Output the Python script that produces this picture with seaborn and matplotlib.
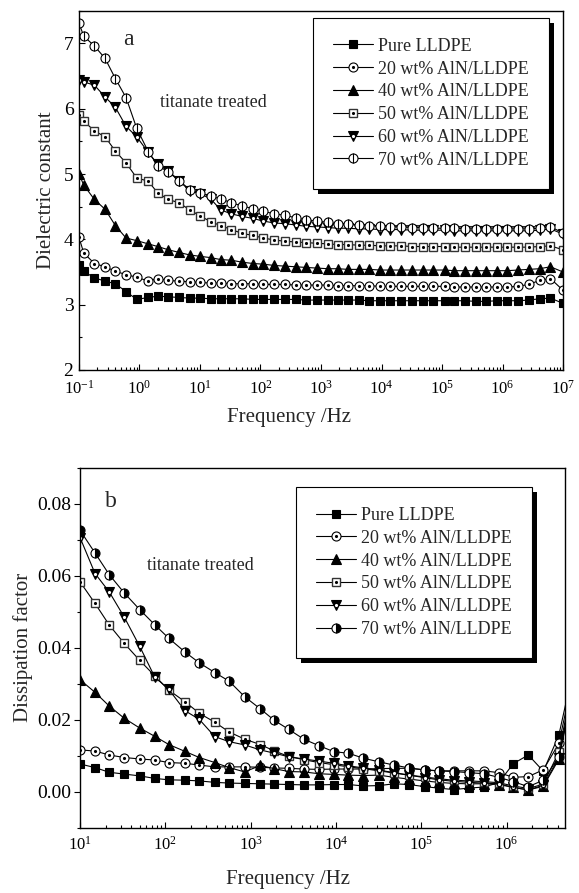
import numpy as np
import matplotlib
matplotlib.use('Agg')
import matplotlib.pyplot as plt
import seaborn as sns
from matplotlib.lines import Line2D
from matplotlib.patches import Rectangle
from matplotlib.ticker import LogLocator, LogFormatterMathtext, MultipleLocator, NullFormatter, FormatStrFormatter

# Style
sns.set_style("ticks")
plt.rcParams['font.family'] = ['Liberation Serif', 'DejaVu Serif']
plt.rcParams['mathtext.fontset'] = 'custom'
plt.rcParams['mathtext.rm'] = 'Liberation Serif'
plt.rcParams['mathtext.it'] = 'Liberation Serif:italic'
plt.rcParams['axes.edgecolor'] = 'black'

# Data
labels = ['Pure LLDPE', '20 wt% AlN/LLDPE', '40 wt% AlN/LLDPE',
          '50 wt% AlN/LLDPE', '60 wt% AlN/LLDPE', '70 wt% AlN/LLDPE']

# (a) dielectric constant
freq_a = [0.1, 0.12, 0.18, 0.27, 0.4, 0.6, 0.9, 1.4, 2, 3, 4.5, 6.8,
          10, 15, 22, 33, 50, 75, 110, 170, 250, 380, 560, 850,
          1.3e3, 1.9e3, 2.8e3, 4.2e3, 6.3e3, 9.5e3, 1.4e4, 2.1e4, 3.2e4, 4.8e4, 7.2e4, 1.1e5,
          1.6e5, 2.4e5, 3.6e5, 5.4e5, 8.1e5, 1.2e6, 1.8e6, 2.7e6, 4.1e6, 6.2e6, 1e7]
eps_pure = [3.60, 3.51, 3.41, 3.36, 3.32, 3.20, 3.08, 3.11, 3.13, 3.12, 3.11, 3.10,
            3.10, 3.09, 3.09, 3.09, 3.09, 3.08, 3.08, 3.08, 3.08, 3.08, 3.07, 3.07,
            3.07, 3.07, 3.07, 3.07, 3.06, 3.06, 3.06, 3.06, 3.06, 3.06, 3.06, 3.06,
            3.06, 3.06, 3.05, 3.05, 3.06, 3.06, 3.06, 3.07, 3.09, 3.10, 3.02]
eps_20 = [4.03, 3.79, 3.63, 3.58, 3.51, 3.46, 3.42, 3.36, 3.40, 3.37, 3.36, 3.35,
          3.34, 3.33, 3.33, 3.32, 3.32, 3.32, 3.31, 3.31, 3.31, 3.30, 3.30, 3.30,
          3.30, 3.29, 3.29, 3.29, 3.29, 3.28, 3.28, 3.28, 3.28, 3.28, 3.28, 3.28,
          3.27, 3.27, 3.27, 3.27, 3.27, 3.27, 3.28, 3.31, 3.37, 3.40, 3.22]
eps_40 = [5.00, 4.83, 4.61, 4.46, 4.21, 4.02, 3.98, 3.93, 3.89, 3.84, 3.80, 3.76,
          3.74, 3.72, 3.69, 3.68, 3.65, 3.63, 3.62, 3.60, 3.59, 3.58, 3.57, 3.56,
          3.55, 3.55, 3.54, 3.54, 3.54, 3.53, 3.53, 3.53, 3.53, 3.53, 3.53, 3.53,
          3.52, 3.52, 3.52, 3.52, 3.52, 3.52, 3.53, 3.54, 3.55, 3.58, 3.50]
eps_50 = [5.90, 5.81, 5.66, 5.57, 5.35, 5.17, 4.94, 4.89, 4.71, 4.61, 4.56, 4.45,
          4.36, 4.27, 4.21, 4.15, 4.09, 4.06, 4.02, 3.99, 3.97, 3.96, 3.95, 3.94,
          3.93, 3.92, 3.92, 3.91, 3.91, 3.90, 3.90, 3.90, 3.89, 3.89, 3.89, 3.89,
          3.88, 3.88, 3.88, 3.88, 3.88, 3.88, 3.88, 3.88, 3.89, 3.90, 3.84]
eps_60 = [6.44, 6.41, 6.36, 6.18, 6.02, 5.73, 5.57, 5.33, 5.15, 5.05, 4.90, 4.74,
          4.70, 4.62, 4.45, 4.39, 4.35, 4.32, 4.28, 4.25, 4.24, 4.22, 4.20, 4.19,
          4.18, 4.17, 4.17, 4.16, 4.16, 4.15, 4.15, 4.15, 4.14, 4.14, 4.14, 4.14,
          4.13, 4.13, 4.13, 4.13, 4.13, 4.13, 4.13, 4.13, 4.14, 4.16, 4.08]
eps_70 = [7.31, 7.11, 6.96, 6.77, 6.46, 6.17, 5.70, 5.34, 5.13, 5.03, 4.90, 4.76,
          4.71, 4.66, 4.62, 4.56, 4.51, 4.47, 4.43, 4.39, 4.37, 4.33, 4.30, 4.28,
          4.26, 4.24, 4.23, 4.22, 4.21, 4.20, 4.19, 4.19, 4.18, 4.18, 4.17, 4.17,
          4.17, 4.16, 4.16, 4.16, 4.16, 4.16, 4.16, 4.16, 4.17, 4.19, 4.10]

# (b) dissipation factor
freq_b = [10, 15, 22, 33, 50, 75, 110, 170, 250, 380, 560, 850,
          1.3e3, 1.9e3, 2.8e3, 4.2e3, 6.3e3, 9.5e3, 1.4e4, 2.1e4, 3.2e4, 4.8e4, 7.2e4, 1.1e5,
          1.6e5, 2.4e5, 3.6e5, 5.4e5, 8.1e5, 1.2e6, 1.8e6, 2.7e6, 4.1e6, 6.2e6]
tan_pure = [0.0077, 0.0067, 0.0054, 0.0049, 0.0044, 0.0037, 0.0033, 0.0032, 0.0030, 0.0026, 0.0024, 0.0023,
            0.0022, 0.0021, 0.0020, 0.0019, 0.0019, 0.0020, 0.0020, 0.0016, 0.0017, 0.0022, 0.0020, 0.0014,
            0.0010, 0.0006, 0.0010, 0.0013, 0.0025, 0.0078, 0.0102, 0.0057, 0.0157, 0.0350]
tan_20 = [0.0116, 0.0113, 0.0102, 0.0095, 0.0091, 0.0088, 0.0081, 0.0079, 0.0074, 0.0069, 0.0069, 0.0069,
          0.0068, 0.0066, 0.0065, 0.0063, 0.0062, 0.0063, 0.0063, 0.0063, 0.0064, 0.0065, 0.0065, 0.0061,
          0.0058, 0.0058, 0.0058, 0.0058, 0.0053, 0.0040, 0.0042, 0.0061, 0.0134, 0.0330]
tan_40 = [0.0311, 0.0276, 0.0238, 0.0204, 0.0177, 0.0154, 0.0131, 0.0112, 0.0095, 0.0081, 0.0067, 0.0055,
          0.0073, 0.0064, 0.0056, 0.0055, 0.0050, 0.0048, 0.0046, 0.0045, 0.0046, 0.0040, 0.0035, 0.0030,
          0.0026, 0.0023, 0.0022, 0.0022, 0.0020, 0.0012, 0.0005, 0.0015, 0.0090, 0.0300]
tan_50 = [0.0583, 0.0523, 0.0463, 0.0412, 0.0365, 0.0322, 0.0282, 0.0250, 0.0218, 0.0193, 0.0166, 0.0146,
          0.0131, 0.0113, 0.0098, 0.0089, 0.0081, 0.0075, 0.0069, 0.0064, 0.0058, 0.0052, 0.0046, 0.0041,
          0.0036, 0.0032, 0.0030, 0.0028, 0.0025, 0.0016, 0.0009, 0.0021, 0.0110, 0.0320]
tan_60 = [0.0706, 0.0606, 0.0555, 0.0485, 0.0404, 0.0319, 0.0284, 0.0225, 0.0201, 0.0153, 0.0139, 0.0130,
          0.0116, 0.0107, 0.0097, 0.0091, 0.0085, 0.0079, 0.0072, 0.0066, 0.0060, 0.0053, 0.0046, 0.0039,
          0.0033, 0.0029, 0.0026, 0.0024, 0.0022, 0.0012, 0.0005, 0.0018, 0.0095, 0.0310]
tan_70 = [0.0726, 0.0663, 0.0603, 0.0552, 0.0506, 0.0464, 0.0426, 0.0388, 0.0358, 0.0331, 0.0307, 0.0264,
          0.0230, 0.0198, 0.0173, 0.0146, 0.0128, 0.0111, 0.0107, 0.0093, 0.0083, 0.0074, 0.0066, 0.0060,
          0.0058, 0.0056, 0.0053, 0.0050, 0.0040, 0.0028, 0.0014, 0.0032, 0.0097, 0.0300]

# marker look per series: main marker + optional overlay mark
style_main = [
    dict(marker='s', ms=6, mfc='black', mec='black', mew=0.8),
    dict(marker='o', ms=6.5, mfc='white', mec='black', mew=0.8),
    dict(marker='^', ms=7, mfc='black', mec='black', mew=0.8),
    dict(marker='s', ms=6, mfc='white', mec='#333333', mew=1.0),
    dict(marker='v', ms=7, mfc='black', mec='black', mew=0.8),
    dict(marker='o', ms=6.5, mfc='white', mec='black', mew=0.8),
]
overlay_a = [None,
             dict(marker='.', ms=2.5, color='black'),
             None,
             dict(marker='.', ms=2.5, color='black'),
             dict(marker='.', ms=2.5, color='white'),
             dict(marker='|', ms=6.5, mew=0.8, color='black')]
overlay_b = list(overlay_a[:5]) + [None]
style_70b = dict(marker='o', ms=6.5, mfc='black', mfcalt='white', fillstyle='right',
                 mec='black', mew=0.8)


def draw_panel(ax, freq, series, overlays, main_styles):
    handles = []
    for vals, ov, st in zip(series, overlays, main_styles):
        sns.lineplot(x=freq, y=vals, ax=ax, color='black', lw=0.8, legend=False,
                     estimator=None, sort=False, **st)
        h = [Line2D([], [], color='black', lw=0.8, **st)]
        if ov is not None:
            ax.plot(freq, vals, ls='none', **ov)
            h.append(Line2D([], [], ls='none', **ov))
        handles.append(tuple(h))
    return handles


def add_legend(fig, ax, handles, anchor):
    leg = ax.legend(handles, labels, loc='upper right', bbox_to_anchor=anchor,
                    frameon=True, fancybox=False, edgecolor='black', framealpha=1,
                    fontsize=13, borderpad=1.1, labelspacing=0.32, handlelength=2.2,
                    handletextpad=0.3, borderaxespad=0, numpoints=1)
    leg.get_frame().set_linewidth(0.8)
    return leg


fig = plt.figure(figsize=(5.79, 8.93), dpi=100)
ax1 = fig.add_axes([0.1364, 0.5857, 0.836, 0.4023])
ax2 = fig.add_axes([0.1382, 0.0731, 0.8377, 0.4032])

# Panel a
ax1.set_xscale('log')
h1 = draw_panel(ax1, freq_a, [eps_pure, eps_20, eps_40, eps_50, eps_60, eps_70],
                overlay_a, style_main)
ax1.set_xlim(0.1, 1e7)
ax1.set_ylim(2, 7.5)
ax1.xaxis.set_major_locator(LogLocator(base=10, numticks=20))
ax1.xaxis.set_minor_locator(LogLocator(base=10, subs=np.arange(2, 10), numticks=20))
ax1.xaxis.set_major_formatter(LogFormatterMathtext())
ax1.xaxis.set_minor_formatter(NullFormatter())
ax1.yaxis.set_major_locator(MultipleLocator(1))
ax1.yaxis.set_minor_locator(MultipleLocator(0.5))
ax1.tick_params(which='both', direction='in', top=False, right=False, width=0.8, colors='black')
ax1.tick_params(which='major', length=4)
ax1.tick_params(which='minor', length=2.5)
ax1.tick_params(axis='y', labelsize=14, pad=4)
ax1.tick_params(axis='x', labelsize=12, pad=7)
ax1.set_xlabel('Frequency /Hz', fontsize=15)
ax1.set_ylabel('Dielectric constant', fontsize=15)
ax1.xaxis.set_label_coords(0.434, -0.106)
ax1.yaxis.set_label_coords(-0.0475, 0.5)
ax1.text(0.091, 0.905, 'a', transform=ax1.transAxes, fontsize=17, va='baseline')
ax1.text(0.167, 0.732, 'titanate treated', transform=ax1.transAxes, fontsize=13, va='baseline')
leg1 = add_legend(fig, ax1, h1, (0.971, 0.98))

# Panel b
ax2.set_xscale('log')
main_b = style_main[:5] + [style_70b]
h2 = draw_panel(ax2, freq_b, [tan_pure, tan_20, tan_40, tan_50, tan_60, tan_70],
                overlay_b, main_b)
ax2.set_xlim(10, 4.85e6)
ax2.set_ylim(-0.01, 0.09)
ax2.xaxis.set_major_locator(LogLocator(base=10, numticks=20))
ax2.xaxis.set_minor_locator(LogLocator(base=10, subs=np.arange(2, 10), numticks=20))
ax2.xaxis.set_major_formatter(LogFormatterMathtext())
ax2.xaxis.set_minor_formatter(NullFormatter())
ax2.yaxis.set_major_locator(MultipleLocator(0.02))
ax2.yaxis.set_minor_locator(MultipleLocator(0.01))
ax2.yaxis.set_major_formatter(FormatStrFormatter('%.2f'))
ax2.tick_params(which='both', top=False, right=False, width=0.8, colors='black')
ax2.tick_params(axis='x', which='both', direction='in')
ax2.tick_params(axis='y', which='both', direction='out')
ax2.tick_params(which='major', length=4)
ax2.tick_params(which='minor', length=2.5)
ax2.tick_params(axis='y', labelsize=14, pad=2)
ax2.tick_params(axis='x', labelsize=12, pad=6)
ax2.set_xlabel('Frequency /Hz', fontsize=15)
ax2.set_ylabel('Dissipation factor', fontsize=15)
ax2.xaxis.set_label_coords(0.429, -0.1175)
ax2.yaxis.set_label_coords(-0.097, 0.5)
ax2.text(0.052, 0.892, 'b', transform=ax2.transAxes, fontsize=17, va='baseline')
ax2.text(0.138, 0.716, 'titanate treated', transform=ax2.transAxes, fontsize=13, va='baseline')
leg2 = add_legend(fig, ax2, h2, (0.932, 0.946))

for ax in (ax1, ax2):
    for sp in ax.spines.values():
        sp.set_linewidth(1.0)
        sp.set_color('black')

# black drop shadow behind each legend box
fig.canvas.draw()
renderer = fig.canvas.get_renderer()
for ax, leg in ((ax1, leg1), (ax2, leg2)):
    bb = leg.get_frame().get_window_extent(renderer).transformed(fig.transFigure.inverted())
    ax.add_artist(Rectangle((bb.x0 + 5 / 579, bb.y0 - 5 / 893), bb.width, bb.height,
                            transform=fig.transFigure, facecolor='black', edgecolor='none',
                            zorder=4.5, clip_on=False))

plt.savefig('out.png', dpi=100)
